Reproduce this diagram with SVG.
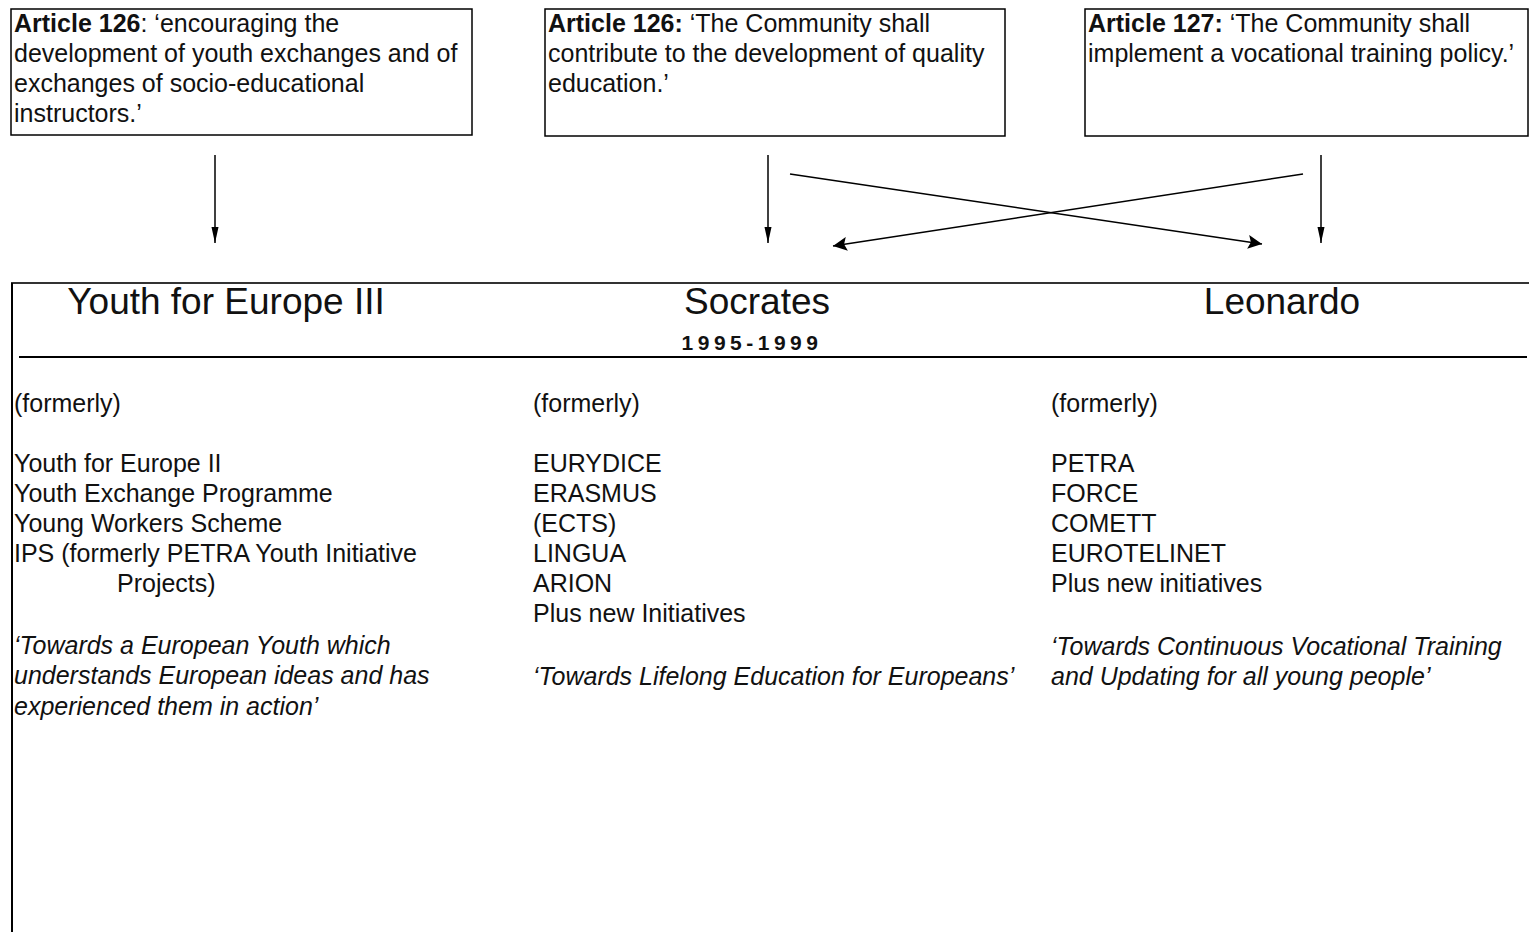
<svg xmlns="http://www.w3.org/2000/svg" width="1529" height="932" viewBox="0 0 1529 932">
<defs>
<style>
text{font-family:"Liberation Sans",Arial,sans-serif;fill:#111;}
.t{font-size:25px;}
.b{font-weight:bold;}
.i{font-style:italic;}
.h{font-size:37px;}
.yr{font-size:21px;font-weight:bold;letter-spacing:4.5px;}
.box{fill:#fff;stroke:#000;stroke-width:1.5;}
.ln{stroke:#000;stroke-width:1.5;fill:none;}
</style>
<marker id="ah" viewBox="0 0 10 10" refX="10" refY="5" markerWidth="16" markerHeight="16" markerUnits="userSpaceOnUse" orient="auto">
<path d="M0,2.8 L10,5 L0,7.2 Z" fill="#000"/>
</marker>
<marker id="ah2" viewBox="0 0 10 10" refX="10" refY="5" markerWidth="18" markerHeight="14" markerUnits="userSpaceOnUse" orient="auto">
<path d="M0,0 L10,5 L0,10 L2,5 Z" fill="#000"/>
</marker>
</defs>
<rect width="1529" height="932" fill="#fff"/>

<g id="art126a">
<rect class="box" x="11" y="9" width="461" height="126"/>
<text class="t" x="14" y="32"><tspan class="b">Article 126</tspan>: ‘encouraging the</text>
<text class="t" x="14" y="62">development of youth exchanges and of</text>
<text class="t" x="14" y="92">exchanges of socio-educational</text>
<text class="t" x="14" y="122">instructors.’</text>
</g>

<g id="art126b">
<rect class="box" x="545" y="9" width="460" height="127"/>
<text class="t" x="548" y="32"><tspan class="b">Article 126:</tspan> ‘The Community shall</text>
<text class="t" x="548" y="62">contribute to the development of quality</text>
<text class="t" x="548" y="92">education.’</text>
</g>

<g id="art127">
<rect class="box" x="1085" y="9" width="443" height="127"/>
<text class="t" x="1088" y="32"><tspan class="b">Article 127:</tspan> ‘The Community shall</text>
<text class="t" x="1088" y="62">implement a vocational training policy.’</text>
</g>

<g id="connectors">
<line class="ln" x1="215" y1="155" x2="215" y2="243" marker-end="url(#ah)"/>
<line class="ln" x1="768" y1="155" x2="768" y2="243" marker-end="url(#ah)"/>
<line class="ln" x1="1321" y1="155" x2="1321" y2="243" marker-end="url(#ah)"/>
<line class="ln" x1="790" y1="174" x2="1262" y2="244" stroke-width="2" marker-end="url(#ah2)"/>
<line class="ln" x1="1303" y1="174" x2="833" y2="246" stroke-width="2" marker-end="url(#ah2)"/>
</g>

<g id="programmes">
<line x1="11" y1="283" x2="1529" y2="283" stroke="#333" stroke-width="2"/>
<line x1="12" y1="283" x2="12" y2="932" stroke="#000" stroke-width="2"/>
<line x1="19" y1="357" x2="1527" y2="357" stroke="#000" stroke-width="2"/>
<text class="h" x="226" y="314" text-anchor="middle">Youth for Europe III</text>
<text class="h" x="757" y="314" text-anchor="middle">Socrates</text>
<text class="h" x="1282" y="314" text-anchor="middle">Leonardo</text>
<text class="yr" x="752" y="350" text-anchor="middle">1995-1999</text>
</g>

<g id="youth">
<text class="t" x="14" y="412">(formerly)</text>
<text class="t" x="14" y="472">Youth for Europe II</text>
<text class="t" x="14" y="502">Youth Exchange Programme</text>
<text class="t" x="14" y="532">Young Workers Scheme</text>
<text class="t" x="14" y="562">IPS (formerly PETRA Youth Initiative</text>
<text class="t" x="117" y="592">Projects)</text>
<text class="t i" x="14" y="654">‘Towards a European Youth which</text>
<text class="t i" x="14" y="684">understands European ideas and has</text>
<text class="t i" x="14" y="715">experienced them in action’</text>
</g>

<g id="socrates">
<text class="t" x="533" y="412">(formerly)</text>
<text class="t" x="533" y="472">EURYDICE</text>
<text class="t" x="533" y="502">ERASMUS</text>
<text class="t" x="533" y="532">(ECTS)</text>
<text class="t" x="533" y="562">LINGUA</text>
<text class="t" x="533" y="592">ARION</text>
<text class="t" x="533" y="622">Plus new Initiatives</text>
<text class="t i" x="533" y="685">‘Towards Lifelong Education for Europeans’</text>
</g>

<g id="leonardo">
<text class="t" x="1051" y="412">(formerly)</text>
<text class="t" x="1051" y="472">PETRA</text>
<text class="t" x="1051" y="502">FORCE</text>
<text class="t" x="1051" y="532">COMETT</text>
<text class="t" x="1051" y="562">EUROTELINET</text>
<text class="t" x="1051" y="592">Plus new initiatives</text>
<text class="t i" x="1051" y="655">‘Towards Continuous Vocational Training</text>
<text class="t i" x="1051" y="685">and Updating for all young people’</text>
</g>
</svg>
